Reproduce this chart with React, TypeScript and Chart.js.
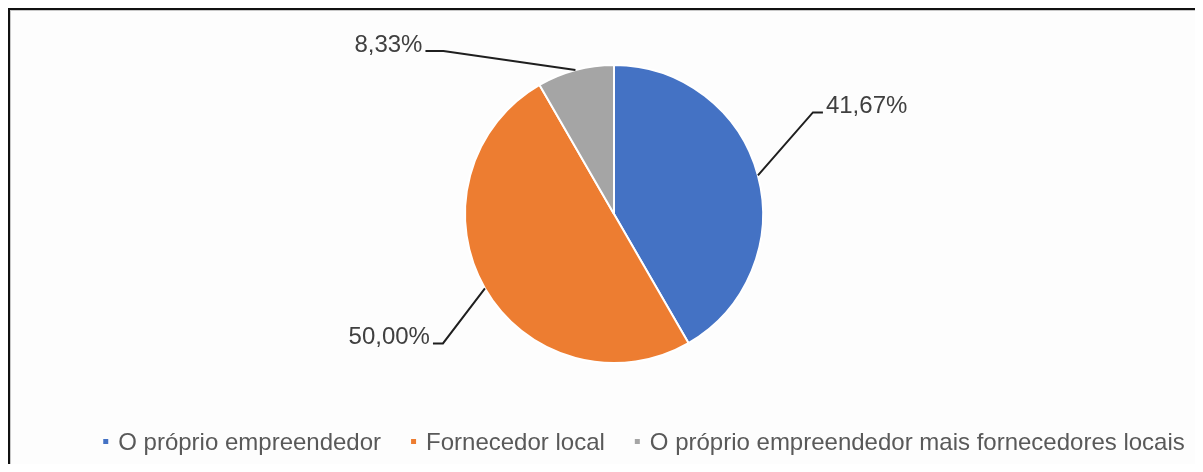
import React, { useEffect, useRef } from "react";
import { Chart, registerables } from "chart.js";

Chart.register(...registerables);

const categories = [
  "O próprio empreendedor",
  "Fornecedor local",
  "O próprio empreendedor mais fornecedores locais",
];
const values = [41.67, 50.0, 8.33];
const valueLabels = ["41,67%", "50,00%", "8,33%"];
const colors = ["#4472C4", "#ED7D31", "#A5A5A5"];

// leader-line layout (elbow offset from slice edge, tail direction/length)
const leaderLayout = [
  { dx: 55, dy: -63, side: 1, tail: 10 },
  { dx: -42, dy: 55, side: -1, tail: 10 },
  { dx: -132, dy: -19, side: -1, tail: 18 },
];

const FONT = "'Liberation Sans', Arial, Helvetica, sans-serif";
const LABEL_SIZE = 24;
const LEGEND_SIZE = 24;
const LEGEND_CENTER_X = 644;
const LEGEND_Y = 441.5;

const leaderPlugin = {
  id: "leaderLabels",
  afterDatasetsDraw(chart: any) {
    const ctx = chart.ctx as CanvasRenderingContext2D;
    const meta = chart.getDatasetMeta(0);
    meta.data.forEach((arc: any, i: number) => {
      const p = arc.getProps(["x", "y", "startAngle", "endAngle", "outerRadius"], true);
      const mid = (p.startAngle + p.endAngle) / 2;
      const ex = p.x + Math.cos(mid) * p.outerRadius;
      const ey = p.y + Math.sin(mid) * p.outerRadius;
      const L = leaderLayout[i];
      const bx = ex + L.dx;
      const by = ey + L.dy;
      const tx = bx + L.side * L.tail;
      ctx.save();
      ctx.strokeStyle = "#1f1f1f";
      ctx.lineWidth = 2;
      ctx.beginPath();
      ctx.moveTo(ex, ey);
      ctx.lineTo(bx, by);
      ctx.lineTo(tx, by);
      ctx.stroke();
      ctx.font = `${LABEL_SIZE}px ${FONT}`;
      ctx.fillStyle = "#404040";
      ctx.textAlign = L.side > 0 ? "left" : "right";
      ctx.textBaseline = "alphabetic";
      ctx.fillText(valueLabels[i], tx + L.side * 3, by + 1);
      ctx.restore();
    });
  },
};

const legendPlugin = {
  id: "bottomLegend",
  afterDraw(chart: any) {
    const ctx = chart.ctx as CanvasRenderingContext2D;
    ctx.save();
    ctx.font = `${LEGEND_SIZE}px ${FONT}`;
    const marker = 5;
    const textGap = 10;
    const itemGap = 30;
    const widths = categories.map((c) => ctx.measureText(c).width);
    const total =
      widths.reduce((a, w) => a + marker + textGap + w, 0) + itemGap * (categories.length - 1);
    let x = LEGEND_CENTER_X - total / 2;
    categories.forEach((c, i) => {
      ctx.fillStyle = colors[i];
      ctx.fillRect(x, LEGEND_Y - marker / 2, marker, marker);
      ctx.fillStyle = "#595959";
      ctx.textAlign = "left";
      ctx.textBaseline = "alphabetic";
      ctx.fillText(c, x + marker + textGap, LEGEND_Y + 8);
      x += marker + textGap + widths[i] + itemGap;
    });
    ctx.restore();
  },
};

function PieChart() {
  const ref = useRef<HTMLCanvasElement | null>(null);
  useEffect(() => {
    document.documentElement.style.overflow = "hidden";
    document.body.style.overflow = "hidden";
    if (!ref.current) return;
    const chart = new Chart(ref.current, {
      type: "pie",
      data: {
        labels: categories,
        datasets: [
          {
            data: values,
            backgroundColor: colors,
            borderColor: "#ffffff",
            borderWidth: 2,
          },
        ],
      },
      options: {
        responsive: false,
        animation: false,
        radius: 149,
        layout: { padding: { left: 40, right: 15, top: 20, bottom: 64 } },
        plugins: {
          legend: { display: false },
          tooltip: { enabled: false },
        },
      } as any,
      plugins: [leaderPlugin, legendPlugin],
    });
    return () => chart.destroy();
  }, []);
  return (
    <canvas
      ref={ref}
      width={1203}
      height={472}
      style={{ position: "absolute", left: -8, top: -8, width: 1203, height: 472 }}
    />
  );
}

export default function App() {
  return (
    <div style={{ position: "relative", width: 1187, height: 456, overflow: "visible" }}>
      <div
        style={{
          position: "absolute",
          left: 0,
          top: 0,
          width: 1195,
          height: 464,
          boxSizing: "border-box",
          borderTop: "2px solid #111",
          borderLeft: "2px solid #111",
          boxShadow: "inset 1px 1px 0 #c8c8c8",
          background: "#fdfdfd",
        }}
      />
      <PieChart />
    </div>
  );
}
